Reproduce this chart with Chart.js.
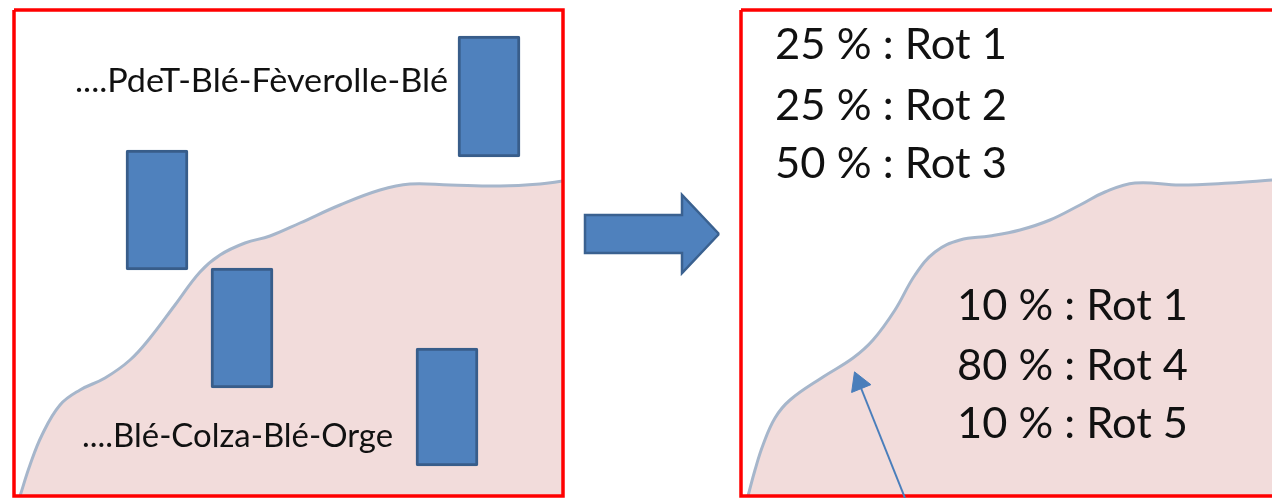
<!DOCTYPE html>
<html>
<head>
<meta charset="utf-8">
<script src="https://cdn.jsdelivr.net/npm/chart.js@4.4.1/dist/chart.umd.min.js"></script>
<style>
    html, body { margin: 0; padding: 0; background: #fff; }
    #wrap { width: 1272px; height: 498px; position: relative; }
</style>
</head>
<body>
<div id="wrap"><canvas id="rotations"></canvas></div>
<script>
// limit between the two soil types (pixel space of the slide)
let leftCurveX = [20, 30, 42, 60, 80, 105, 130, 150, 175, 200, 220, 245, 270, 300, 340, 380, 410, 450, 500, 540, 563];
let leftCurveY = [496, 465, 435, 405, 390, 378, 360, 338, 305, 272, 255, 243, 236, 223, 205, 190, 184, 185, 186, 184, 181];
let rightCurveX = [748, 755, 763, 775, 790, 823, 853, 873, 895, 915, 935, 960, 990, 1020, 1050, 1080, 1105, 1135, 1180, 1230, 1272];
let rightCurveY = [496, 470, 445, 418, 400, 377, 358, 340, 310, 275, 252, 240, 236, 230, 220, 205, 192, 183, 185, 183, 180];

// fields (blue boxes): centre x, top, bottom
let fieldX = [157, 242, 489, 447];
let fieldTop = [150, 268, 36, 348];
let fieldBottom = [270, 388, 157, 466];

// frames
let leftFrameX = [14, 563, 563, 14, 14];
let leftFrameY = [10, 10, 496, 496, 10];
let rightFrameX = [741, 1290, 1290, 741, 741];
let rightFrameY = [10, 10, 496, 496, 10];

// big arrow between the panels (upper and lower half)
let arrowUpX = [585, 585, 682, 682, 719];
let arrowUpY = [234, 215, 215, 195, 234];
let arrowDownX = [585, 585, 682, 682, 719];
let arrowDownY = [234, 253, 253, 273, 234];

// small pointer arrow
let pointerX = [905, 859];
let pointerY = [498, 383];

let leftLabels = ['....PdeT-Blé-Fèverolle-Blé', '....Blé-Colza-Blé-Orge'];
let topShares = ['25 % : Rot 1', '25 % : Rot 2', '50 % : Rot 3'];
let bottomShares = ['10 % : Rot 1', '80 % : Rot 4', '10 % : Rot 5'];

let zip = (xs, ys) => xs.map((x, i) => ({x: x, y: ys[i]}));

// where each text goes: x, baseline, width, font size
let textLayout = [];
leftLabels.forEach((t, i) => {
    textLayout.push({text: t, x: i === 0 ? 75 : 82, y: i === 0 ? 92 : 447, w: i === 0 ? 373 : 311, size: 33});
});
topShares.forEach((t, i) => {
    textLayout.push({text: t, x: 775, y: [59, 120, 178][i], w: 232, size: 43});
});
bottomShares.forEach((t, i) => {
    textLayout.push({text: t, x: 957, y: [320, 380, 438][i], w: 231, size: 43});
});

let textPlugin = {
    id: 'slideText',
    afterDatasetsDraw: chart => {
        let ctx = chart.ctx;
        let sx = chart.scales.x;
        let sy = chart.scales.y;
        textLayout.forEach(item => {
            ctx.save();
            ctx.font = item.size + 'px Lato';
            ctx.fillStyle = '#111';
            ctx.textBaseline = 'alphabetic';
            let px = sx.getPixelForValue(item.x);
            let py = sy.getPixelForValue(item.y);
            let measured = ctx.measureText(item.text).width;
            ctx.translate(px, py);
            ctx.scale(item.w / measured, 1);
            ctx.fillText(item.text, 0, 0);
            ctx.restore();
        });
    }
};

let curveStyle = {
    type: 'line',
    showLine: true,
    borderColor: '#A6B6CB',
    borderWidth: 3,
    backgroundColor: '#F2DCDB',
    fill: {value: 496},
    tension: 0.4,
    pointRadius: 0,
    order: 5
};

let frameStyle = {
    type: 'line',
    borderColor: '#FF0000',
    borderWidth: 3.5,
    borderJoinStyle: 'miter',
    fill: false,
    tension: 0,
    pointRadius: 0,
    order: 3
};

let arrowStyle = {
    type: 'line',
    borderColor: '#3A6190',
    backgroundColor: '#4F81BD',
    borderWidth: 2.5,
    borderJoinStyle: 'miter',
    fill: {value: 234},
    tension: 0,
    pointRadius: 0,
    order: 2
};

new Chart(document.getElementById('rotations'), {
    data: {
        datasets: [
            Object.assign({data: zip(leftCurveX, leftCurveY)}, curveStyle),
            Object.assign({data: zip(rightCurveX, rightCurveY)}, curveStyle),
            Object.assign({data: zip(leftFrameX, leftFrameY)}, frameStyle),
            Object.assign({data: zip(rightFrameX, rightFrameY)}, frameStyle),
            {
                type: 'bar',
                data: fieldX.map((x, i) => ({x: x, y: [fieldTop[i], fieldBottom[i]]})),
                backgroundColor: '#4F81BD',
                borderColor: '#385D8A',
                borderWidth: 3,
                borderSkipped: false,
                borderRadius: 2,
                barThickness: 62,
                grouped: false,
                order: 1
            },
            Object.assign({data: zip(arrowUpX, arrowUpY)}, arrowStyle),
            Object.assign({data: zip(arrowDownX, arrowDownY)}, arrowStyle),
            {
                type: 'line',
                data: zip(pointerX, pointerY),
                borderColor: '#4A7EBB',
                backgroundColor: '#4A7EBB',
                borderWidth: 2,
                fill: false,
                pointStyle: 'triangle',
                pointRadius: [0, 12],
                pointRotation: -22,
                pointBorderWidth: 1,
                order: 0
            }
        ]
    },
    options: {
        responsive: true,
        maintainAspectRatio: false,
        animation: false,
        events: [],
        layout: {padding: 0, autoPadding: false},
        plugins: {
            legend: {display: false},
            tooltip: {enabled: false}
        },
        scales: {
            x: {type: 'linear', min: 0, max: 1272, offset: false, display: false},
            y: {type: 'linear', min: 0, max: 498, reverse: true, display: false}
        }
    },
    plugins: [textPlugin]
});
</script>
</body>
</html>
